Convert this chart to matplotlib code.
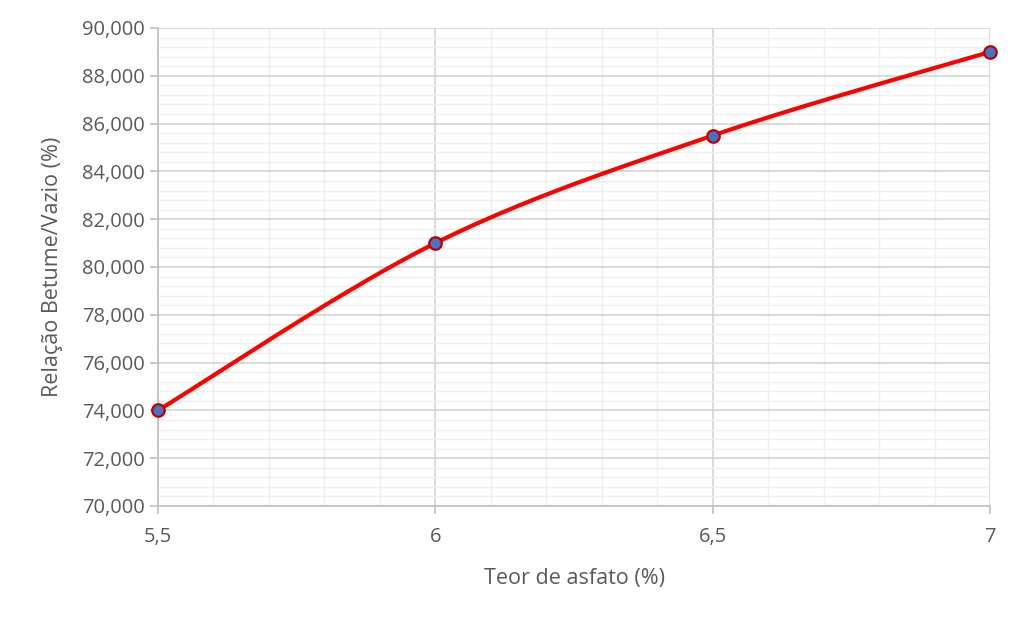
import numpy as np
import matplotlib
matplotlib.use("Agg")
import matplotlib.pyplot as plt
from matplotlib.ticker import MultipleLocator, FuncFormatter

teor = [5.5, 6.0, 6.5, 7.0]
rbv = [74.0, 81.0, 85.5, 89.0]
xticks = [5.5, 6.0, 6.5, 7.0]
xticklabels = ["5,5", "6", "6,5", "7"]

plt.rcParams['font.family'] = ['Open Sans', 'DejaVu Sans']

fig = plt.figure(figsize=(10.24, 6.21), dpi=100)
ax = fig.add_axes([158/1024, 1-506/621, (990-158)/1024, (506-28)/621])

# Excel-style smoothed line (cubic Bezier through points)
px = np.array(teor); py = np.array(rbv)
n = len(px)
ext_x = np.concatenate([[px[0]], px, [px[-1]]])
ext_y = np.concatenate([[py[0]], py, [py[-1]]])
cx, cy = [], []
t = np.linspace(0, 1, 60)
for i in range(n - 1):
    p0 = np.array([ext_x[i], ext_y[i]])
    p1 = np.array([ext_x[i+1], ext_y[i+1]])
    p2 = np.array([ext_x[i+2], ext_y[i+2]])
    p3 = np.array([ext_x[i+3], ext_y[i+3]])
    b1 = p1 + (p2 - p0) / 6
    b2 = p2 - (p3 - p1) / 6
    pts = ((1-t)**3)[:, None]*p1 + (3*(1-t)**2*t)[:, None]*b1 + (3*(1-t)*t**2)[:, None]*b2 + (t**3)[:, None]*p2
    cx.extend(pts[:, 0]); cy.extend(pts[:, 1])

ax.plot(cx, cy, color='#FF0000', lw=3.0, zorder=3, solid_capstyle='round')
ax.plot(teor, rbv, 'o', ms=9, mfc='#4472C4', mec='#C00000', mew=1.6, zorder=4, clip_on=False)

ax.set_xlim(5.5, 7.0)
ax.set_ylim(70, 90)
ax.set_xticks(xticks)
ax.set_xticklabels(xticklabels)
ax.xaxis.set_minor_locator(MultipleLocator(0.1))
ax.yaxis.set_major_locator(MultipleLocator(2))
ax.yaxis.set_minor_locator(MultipleLocator(0.4))
ax.yaxis.set_major_formatter(FuncFormatter(lambda v, p: f"{int(round(v))},000"))

ax.grid(which='major', color='#D4D4D4', lw=1.2)
ax.grid(which='minor', color='#EFEFEF', lw=1.0)
ax.set_axisbelow(True)

for s in ['top', 'right']:
    ax.spines[s].set_visible(False)
for s in ['left', 'bottom']:
    ax.spines[s].set_color('#BFBFBF')
    ax.spines[s].set_linewidth(1.2)

ax.tick_params(axis='both', which='major', length=6, color='#BFBFBF', labelsize=14.5, labelcolor='#595959', width=1.2)
ax.tick_params(axis='x', which='major', pad=9)
ax.tick_params(axis='both', which='minor', length=0)

ax.set_xlabel('Teor de asfato (%)', fontsize=15.5, color='#595959', labelpad=15)
ax.set_ylabel('Relação Betume/Vazio (%)', fontsize=15.5, color='#595959', labelpad=14)

fig.savefig('out.png', dpi=100, facecolor='white')
